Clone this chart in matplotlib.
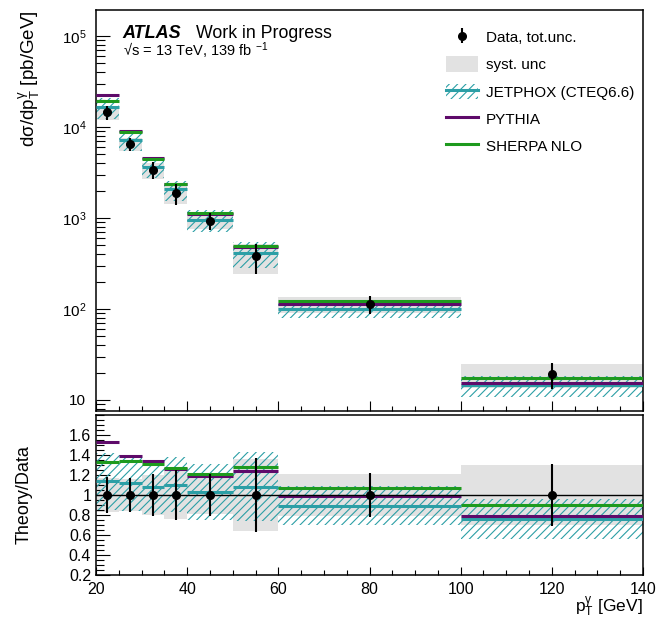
import numpy as np
import matplotlib
matplotlib.use('Agg')
from matplotlib import pyplot as plt
from matplotlib.lines import Line2D
from matplotlib.patches import Patch
from matplotlib.ticker import MultipleLocator, LogLocator, FixedLocator, FuncFormatter, NullFormatter

plt.rcParams['font.family'] = ['Liberation Sans', 'DejaVu Sans']
plt.rcParams['mathtext.fontset'] = 'custom'
plt.rcParams['mathtext.rm'] = 'Liberation Sans'
plt.rcParams['mathtext.it'] = 'Liberation Sans:italic'
plt.rcParams['mathtext.bf'] = 'Liberation Sans:bold'
plt.rcParams['mathtext.default'] = 'regular'
plt.rcParams['hatch.linewidth'] = 0.8

# photon pT bins [GeV]
bin_edges = [20, 25, 30, 35, 40, 50, 60, 100, 140]

# measured cross section [pb/GeV] and relative uncertainties
data = [14500, 6500, 3370, 1870, 933, 382, 113, 19.3]
data_tot_rel = [0.18, 0.17, 0.21, 0.25, 0.21, 0.37, 0.22, 0.31]
data_syst_rel = [0.17, 0.16, 0.20, 0.24, 0.19, 0.36, 0.21, 0.30]

# predictions [pb/GeV]
jetphox = [16500, 7280, 3640, 2060, 961, 413, 101, 14.7]
jetphox_unc_rel = [0.25, 0.25, 0.25, 0.25, 0.27, 0.32, 0.22, 0.26]
pythia = [22200, 9040, 4520, 2360, 1110, 474, 112, 15.2]
sherpa = [19300, 8710, 4410, 2370, 1130, 489, 121, 17.4]

c_grey = '#e2e2e2'
c_cyan = '#2c9fa6'
c_purple = '#5e0a6a'
c_green = '#1e9a1e'
lw_th = 2.2

edges = np.array(bin_edges, dtype=float)
lo, hi = edges[:-1], edges[1:]
widths = hi - lo
centers = 0.5 * (lo + hi)
data = np.array(data)
tot = np.array(data_tot_rel)
syst = np.array(data_syst_rel)
jet = np.array(jetphox)
ju = np.array(jetphox_unc_rel)
pyt = np.array(pythia)
she = np.array(sherpa)

fig = plt.figure(figsize=(6.64, 6.18), dpi=100)
ax = fig.add_axes([0.1446, 0.335, 0.8238, 0.6488])
rx = fig.add_axes([0.1446, 0.0696, 0.8238, 0.2589])

# ---- top panel
ax.bar(lo, 2 * syst * data, bottom=data * (1 - syst), width=widths, align='edge',
       color=c_grey, lw=0, zorder=1)
ax.bar(lo, 2 * ju * jet, bottom=jet * (1 - ju), width=widths, align='edge',
       fill=False, hatch='////', edgecolor=c_cyan, lw=0, zorder=2)
ax.hlines(jet, lo, hi, color=c_cyan, lw=lw_th, zorder=3)
ax.hlines(pyt, lo, hi, color=c_purple, lw=lw_th, zorder=4)
ax.hlines(she, lo, hi, color=c_green, lw=lw_th, zorder=5)
eb = ax.errorbar(centers, data, yerr=tot * data, fmt='o', color='k', ms=5.5,
                 elinewidth=1.5, capsize=0, zorder=6)

ax.set_yscale('log')
ax.set_xlim(20, 140)
ax.set_ylim(7.57, 1.93e5)
ax.yaxis.set_major_locator(LogLocator(base=10, numticks=10))
ax.yaxis.set_minor_locator(LogLocator(base=10, subs=np.arange(2, 10), numticks=20))
ax.yaxis.set_minor_formatter(NullFormatter())
ax.yaxis.set_major_formatter(FuncFormatter(
    lambda v, _: '10' if abs(v - 10) < 1e-6 else '$10^{%d}$' % int(round(np.log10(v)))))
ax.xaxis.set_major_locator(MultipleLocator(20))
ax.xaxis.set_minor_locator(MultipleLocator(5))
ax.tick_params(which='both', direction='in', top=False, right=False, labelbottom=False,
               width=0.8, labelsize=11)
ax.tick_params(axis='y', which='major', length=10, pad=7)
ax.tick_params(axis='y', which='minor', length=6.5)
ax.tick_params(axis='x', which='major', length=7)
ax.tick_params(axis='x', which='minor', length=3.6)
for s in ax.spines.values():
    s.set_linewidth(1.1)

ax.set_ylabel('dσ/dp$_T^γ$ [pb/GeV]', loc='top', fontsize=13.5)
ax.yaxis.set_label_coords(-0.099, 1.0)

ax.text(0.049, 0.930, 'ATLAS', transform=ax.transAxes, fontsize=13,
        fontweight='bold', fontstyle='italic', va='baseline')
ax.text(0.183, 0.930, 'Work in Progress', transform=ax.transAxes, fontsize=12.8,
        va='baseline')
ax.text(0.049, 0.885, '√s = 13 TeV, 139 fb $^{-1}$', transform=ax.transAxes,
        fontsize=10.5, va='baseline')

jet_handle = (Patch(fill=False, hatch='////', edgecolor=c_cyan, lw=0),
              Line2D([], [], color=c_cyan, lw=lw_th))
handles = [eb, Patch(facecolor=c_grey, edgecolor='none'), jet_handle,
           Line2D([], [], color=c_purple, lw=lw_th),
           Line2D([], [], color=c_green, lw=lw_th)]
labels = ['Data, tot.unc.', 'syst. unc', 'JETPHOX (CTEQ6.6)', 'PYTHIA', 'SHERPA NLO']
ax.legend(handles, labels, loc='upper left', bbox_to_anchor=(0.64, 0.952),
          frameon=False, fontsize=11, handlelength=2.1, handleheight=1.2,
          handletextpad=0.5, labelspacing=0.73, borderpad=0, borderaxespad=0)

# ---- ratio panel
rx.bar(lo, 2 * syst, bottom=1 - syst, width=widths, align='edge',
       color=c_grey, lw=0, zorder=1)
jr = jet / data
rx.bar(lo, 2 * ju * jr, bottom=jr * (1 - ju), width=widths, align='edge',
       fill=False, hatch='////', edgecolor=c_cyan, lw=0, zorder=2)
rx.hlines(jr, lo, hi, color=c_cyan, lw=lw_th, zorder=3)
rx.hlines(pyt / data, lo, hi, color=c_purple, lw=lw_th, zorder=4)
rx.hlines(she / data, lo, hi, color=c_green, lw=lw_th, zorder=5)
rx.hlines(1.0, 20, 140, color='k', lw=1.0, zorder=6)
rx.errorbar(centers, np.ones_like(centers), yerr=tot, fmt='o', color='k', ms=5.5,
            elinewidth=1.5, capsize=0, zorder=7)

rx.set_xlim(20, 140)
rx.set_ylim(0.2, 1.8)
rx.xaxis.set_major_locator(MultipleLocator(20))
rx.xaxis.set_minor_locator(MultipleLocator(5))
rx.yaxis.set_major_locator(FixedLocator([0.2, 0.4, 0.6, 0.8, 1.0, 1.2, 1.4, 1.6]))
rx.yaxis.set_minor_locator(MultipleLocator(0.05))
rx.yaxis.set_major_formatter(FuncFormatter(lambda v, _: '%g' % round(v, 2)))
rx.tick_params(which='both', direction='in', top=False, right=False, width=0.8,
               labelsize=11.5)
rx.tick_params(axis='y', which='major', length=10, pad=3.5)
rx.tick_params(axis='y', which='minor', length=5.5)
rx.tick_params(axis='x', which='major', length=6, pad=5)
rx.tick_params(axis='x', which='minor', length=3.6)
for s in rx.spines.values():
    s.set_linewidth(1.1)

rx.set_ylabel('Theory/Data', fontsize=13)
rx.yaxis.set_label_coords(-0.115, 0.5)
rx.set_xlabel('p$_T^γ$ [GeV]', loc='right', fontsize=12.5)
rx.xaxis.set_label_coords(1.0, -0.125)

fig.savefig('out.png', dpi=100)
